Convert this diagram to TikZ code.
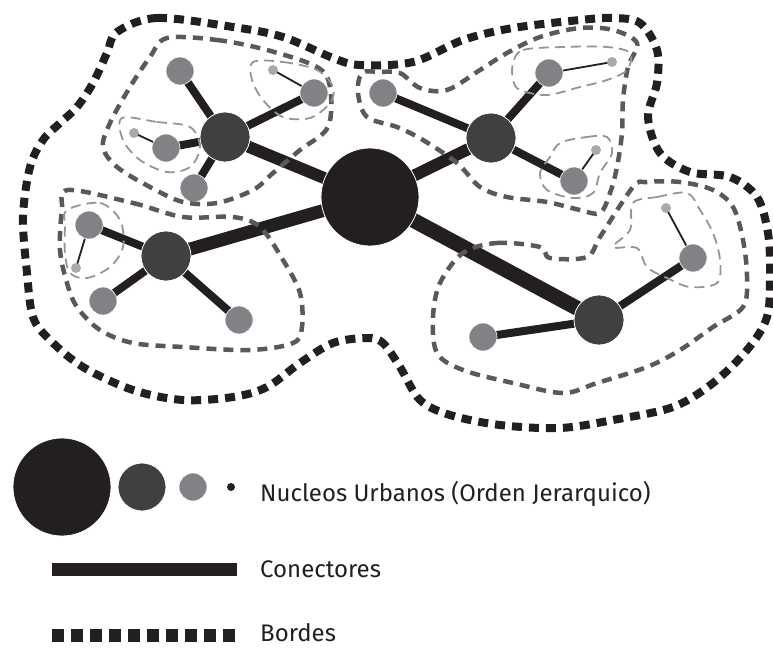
\documentclass[tikz,border=0pt]{standalone}
\usepackage{fontspec}
\setmainfont{Fira Sans}
\usetikzlibrary{backgrounds}

\definecolor{negro}{HTML}{231F20}
\definecolor{oscuro}{HTML}{404041}
\definecolor{medio}{HTML}{808285}
\definecolor{claro}{HTML}{A7A9AC}
\definecolor{bordegris}{HTML}{58595B}
\definecolor{bordeclaro}{HTML}{939598}

\tikzset{
  nucleo/.style={circle, fill=negro, draw=white, line width=0.8pt, inner sep=0pt, minimum size=98pt},
  centro/.style={circle, fill=oscuro, draw=white, line width=0.8pt, inner sep=0pt, minimum size=50pt},
  satelite/.style={circle, fill=medio, draw=white, line width=0.6pt, inner sep=0pt, minimum size=28pt},
  menor/.style={circle, fill=claro, inner sep=0pt, minimum size=10pt},
  conector/.style={negro, line width=8pt},
  enlace/.style={negro, line width=1.8pt},
  borde/.style={negro, line width=8pt, dash pattern=on 10pt off 7pt},
  zona/.style={bordegris, line width=4.5pt, dash pattern=on 10pt off 7pt},
  subzona/.style={bordeclaro, line width=1.8pt, dash pattern=on 10pt off 6pt},
  leyenda/.style={anchor=base west, font=\fontsize{24}{28}\selectfont, text=negro, inner sep=0pt}
}

\begin{document}
\begin{tikzpicture}[x=1pt, y=-1pt]
    \useasboundingbox (0,0) rectangle (773,648);

    % nucleos
    \node[nucleo] (cen) at (370,197) {};
    \node[centro] (no) at (225,137) {};
    \node[centro] (o) at (166,256) {};
    \node[centro] (ne) at (491,138) {};
    \node[centro] (se) at (599,320) {};

    \node[satelite] (no1) at (180,71) {};
    \node[satelite] (no2) at (314,93) {};
    \node[satelite] (no3) at (166,148) {};
    \node[satelite] (no4) at (194,188) {};
    \node[satelite] (o1) at (89,225) {};
    \node[satelite] (o2) at (103,301) {};
    \node[satelite] (o3) at (239,320) {};
    \node[satelite] (ne1) at (383,93) {};
    \node[satelite] (ne2) at (549,73) {};
    \node[satelite] (ne3) at (574,181) {};
    \node[satelite] (se1) at (483,337) {};
    \node[satelite] (se2) at (693,258) {};

    \node[menor] (m1) at (273,70) {};
    \node[menor] (m2) at (134,133) {};
    \node[menor] (m3) at (76,268) {};
    \node[menor] (m4) at (612,62) {};
    \node[menor] (m5) at (596,150) {};
    \node[menor] (m6) at (666,208) {};

    % conectores
    \begin{scope}[on background layer]
        \draw[conector, line width=12pt] (cen.center) -- (no.center);
        \draw[conector, line width=13pt] (cen.center) -- (o.center);
        \draw[conector, line width=12pt] (cen.center) -- (ne.center);
        \draw[conector, line width=15pt] (cen.center) -- (se.center);

        \foreach \a/\b in {no/no1, no/no2, no/no3, no/no4, o/o1, o/o2, o/o3,
                           ne/ne1, ne/ne2, ne/ne3, se/se1, se/se2}
            \draw[conector] (\a.center) -- (\b.center);

        \foreach \a/\b in {no2/m1, no3/m2, o1/m3, ne2/m4, ne3/m5, se2/m6}
            \draw[enlace] (\a.center) -- (\b.center);
    \end{scope}

    % bordes
    \draw[borde] plot[smooth cycle, tension=0.55] coordinates {(117,32) (157,18) (233,27) (283,37) (333,58) (360,65) (413,62) (463,40) (513,28) (580,20) (613,18) (640,23) (657,50) (657,83) (648,117) (660,153) (690,172) (730,177) (757,197) (768,233) (770,273) (767,317) (747,350) (713,383) (673,407) (613,420) (560,428) (500,425) (450,415) (420,400) (400,367) (383,343) (367,338) (333,343) (300,363) (267,387) (233,397) (183,400) (133,390) (83,367) (50,340) (33,317) (27,273) (23,217) (30,167) (43,140) (60,123) (77,107) (93,83) (107,53)};

    \draw[zona] plot[smooth cycle, tension=0.55] coordinates {(167,38) (217,40) (267,50) (317,67) (330,87) (328,127) (300,150) (273,173) (253,190) (217,203) (183,202) (150,187) (117,167) (103,147) (110,123) (130,87) (150,57)};
    \draw[zona] plot[smooth cycle, tension=0.55] coordinates {(68,190) (133,203) (183,217) (233,217) (260,227) (283,260) (300,293) (302,327) (293,343) (250,350) (183,347) (133,343) (100,330) (77,307) (67,283) (60,250) (62,210)};
    \draw[zona] plot[smooth cycle, tension=0.55] coordinates {(380,72) (400,73) (420,88) (447,90) (480,70) (507,53) (540,37) (580,28) (613,30) (637,43) (628,67) (623,100) (622,133) (617,167) (610,193) (600,213) (580,210) (547,202) (507,197) (480,187) (457,163) (423,140) (397,127) (367,117) (358,93) (362,73)};
    \draw[zona] plot[smooth cycle, tension=0.55] coordinates {(463,253) (497,243) (540,247) (550,258) (587,257) (600,237) (633,187) (647,182) (680,182) (713,190) (733,207) (743,240) (747,277) (743,307) (713,327) (680,350) (647,367) (597,383) (563,393) (513,383) (463,370) (437,353) (433,317) (440,283)};

    \draw[subzona] plot[smooth cycle, tension=0.55] coordinates {(253,62) (283,62) (317,70) (333,87) (330,103) (310,118) (283,117) (263,100) (252,80)};
    \draw[subzona] plot[smooth cycle, tension=0.55] coordinates {(122,118) (157,122) (190,127) (200,147) (190,167) (167,172) (140,160) (123,140)};
    \draw[subzona] plot[smooth cycle, tension=0.55] coordinates {(67,210) (100,203) (120,220) (123,247) (110,267) (87,278) (70,273) (65,253) (65,227)};
    \draw[subzona] plot[smooth cycle, tension=0.55] coordinates {(513,63) (523,50) (563,47) (607,47) (630,53) (627,70) (607,80) (580,87) (547,95) (520,90) (513,80)};
    \draw[subzona] plot[smooth cycle, tension=0.55] coordinates {(560,143) (587,137) (607,137) (612,153) (600,173) (593,193) (573,198) (547,190) (540,173) (550,157)};
    \draw[subzona] plot[smooth cycle, tension=0.55] coordinates {(633,203) (657,197) (687,193) (700,210) (713,233) (720,260) (717,283) (690,287) (667,278) (647,267) (637,248) (613,247) (630,230)};

    % leyenda
    \node[nucleo] (ln1) at (62,487) {};
    \node[centro, minimum size=48pt] (ln2) at (142,487) {};
    \node[satelite] (ln3) at (193,487) {};
    \node[circle, fill=negro, inner sep=0pt, minimum size=8pt] (ln4) at (231,487) {};
    \node[leyenda] (tn) at (260,501) {Nucleos Urbanos (Orden Jerarquico)};

    \coordinate (lc1) at (52,569);
    \coordinate (lc2) at (237,569);
    \draw[negro, line width=13pt] (lc1) -- (lc2);
    \node[leyenda] (tc) at (260,577) {Conectores};

    \coordinate (lb1) at (52,635);
    \coordinate (lb2) at (235,635);
    \draw[negro, line width=13pt, dash pattern=on 12pt off 7pt] (lb1) -- (lb2);
    \node[leyenda] (tb) at (260,641) {Bordes};
\end{tikzpicture}
\end{document}
